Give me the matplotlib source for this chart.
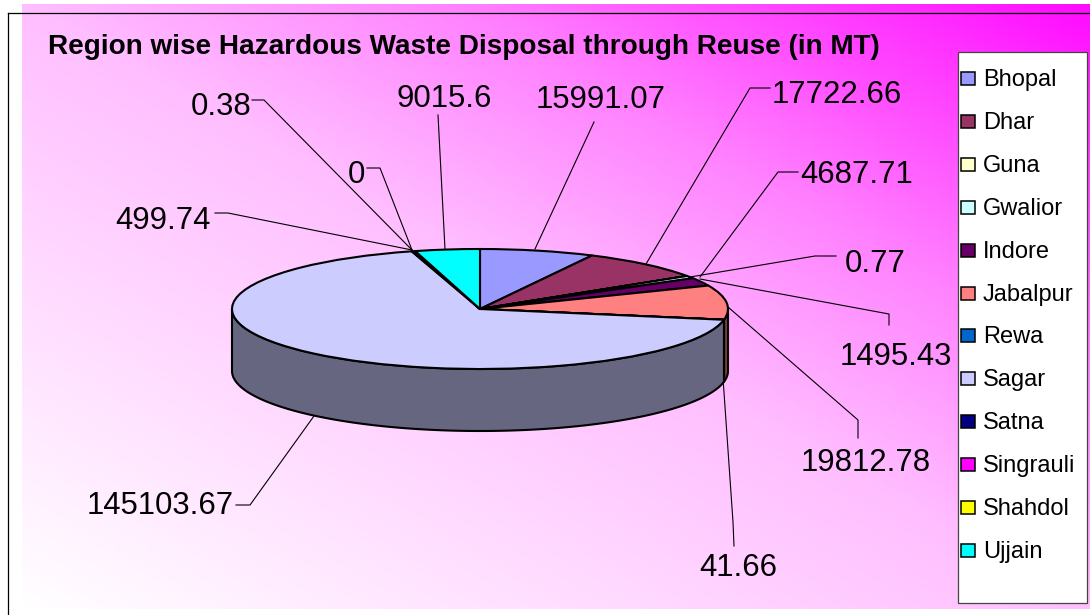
import matplotlib
matplotlib.use('Agg')
import matplotlib.pyplot as plt
import numpy as np
from matplotlib.patches import Rectangle

plt.rcParams['font.family'] = ['Liberation Sans', 'DejaVu Sans']

regions = ['Bhopal', 'Dhar', 'Guna', 'Gwalior', 'Indore', 'Jabalpur', 'Rewa',
           'Sagar', 'Satna', 'Singrauli', 'Shahdol', 'Ujjain']
reuse_mt = [15991.07, 17722.66, 0.77, 1495.43, 4687.71, 19812.78, 41.66,
            145103.67, 499.74, 0, 0.38, 9015.6]
title = 'Region wise Hazardous Waste Disposal through Reuse (in MT)'

colors = ['#9999FF', '#993366', '#FFFFCC', '#CCFFFF', '#660066', '#FF8080',
          '#0066CC', '#CCCCFF', '#000080', '#FF00FF', '#FFFF00', '#00FFFF']

# label spot (left x, baseline y) in pixels, same order as regions
label_pos = [(536, 108), (772, 103), (845, 272), (840, 365), (800, 183),
             (801, 471), (699, 576), (87, 514), (115, 229), (348, 183),
             (191, 115), (397, 107)]
# leader lines in pixels
leaders = [[(594, 122), (535, 249)],
           [(770, 88), (750, 88), (646, 264)],
           [(836, 256), (815, 256), (690, 277)],
           [(889, 325), (889, 314), (700, 279)],
           [(798, 172), (778, 172), (700, 277)],
           [(858, 438), (858, 420), (728, 307)],
           [(734, 546), (733, 522), (723, 378)],
           [(236, 505), (250, 505), (314, 416)],
           [(215, 213), (228, 213), (412, 250)],
           [(367, 168), (380, 168), (412, 250)],
           [(252, 100), (264, 100), (412, 250)],
           [(438, 115), (445, 249)]]

W, H = 1090, 615
fig = plt.figure(figsize=(W / 100, H / 100), dpi=100, facecolor='white')

# page layer in pixel coordinates
bg = fig.add_axes([0, 0, 1, 1])
bg.set_xlim(0, W)
bg.set_ylim(H, 0)
bg.axis('off')

# background gradient, white bottom left to magenta top right
gx, gy = np.meshgrid(np.linspace(0, 1, 300), np.linspace(0, 1, 200))
t = (gx + gy) / 2
green = np.interp(t, [0, 0.5, 0.7, 1], [255, 190, 130, 10]) / 255
grad = np.dstack([np.ones_like(t), green, np.ones_like(t)])
bg.imshow(grad, origin='lower', extent=[22, W, 609, 4], aspect='auto', zorder=0)
bg.set_xlim(0, W)
bg.set_ylim(H, 0)

bg.plot([8, W], [13, 13], color='k', lw=0.9, zorder=1)
bg.plot([8, 8], [13, H], color='k', lw=0.9, zorder=1)

for path in leaders:
    bg.plot([p[0] for p in path], [p[1] for p in path], color='k', lw=0.8, zorder=2)

for val, pos in zip(reuse_mt, label_pos):
    bg.text(pos[0], pos[1], str(val), fontsize=22.4, color='k', ha='left', va='baseline', zorder=3)

bg.text(48, 54, title, fontsize=20.1, fontweight='bold', color='k', ha='left', va='baseline', zorder=3)

# legend box
bg.add_patch(Rectangle((958, 52), 129, 551, facecolor='white', edgecolor='#444444', lw=0.9, zorder=3))
for i, name in enumerate(regions):
    base = 85 + i * 42.9
    bg.add_patch(Rectangle((961, base - 13), 14, 13, facecolor=colors[i], edgecolor='k', lw=1.1, zorder=4))
    bg.text(983, base + 1, name, fontsize=17, color='k', ha='left', va='baseline', zorder=4)

# pie layer, ellipse box 232-728 by 249-369
left, right, top, bottom = 232, 728, 249, 369
ax = fig.add_axes([left / W, 1 - bottom / H, (right - left) / W, (bottom - top) / H])
ax.patch.set_alpha(0)
wedges, _ = ax.pie(reuse_mt, colors=colors, startangle=90, counterclock=False, radius=1,
                   wedgeprops=dict(edgecolor='k', linewidth=1.5, joinstyle='round'))
ax.set_aspect('auto')
ax.set_xlim(-1, 1)
ax.set_ylim(-1, 1)
for w in wedges:
    w.set_zorder(5)

# side wall of the pie, only the front half shows
depth = 62 / 60
edges = np.cumsum([0] + reuse_mt) / sum(reuse_mt) * 360
for i, col in enumerate(colors):
    a = max(edges[i], 90)
    b = min(edges[i + 1], 270)
    if b <= a:
        continue
    th = np.radians(np.linspace(a, b, 120))
    x = np.sin(th)
    y = np.cos(th)
    rgb = np.array(matplotlib.colors.to_rgb(col)) * 0.5
    ax.fill(np.r_[x, x[::-1]], np.r_[y, y[::-1] - depth], facecolor=rgb, edgecolor='k',
            linewidth=1.5, joinstyle='round', clip_on=False, zorder=2)

fig.savefig('out.png', dpi=100)
